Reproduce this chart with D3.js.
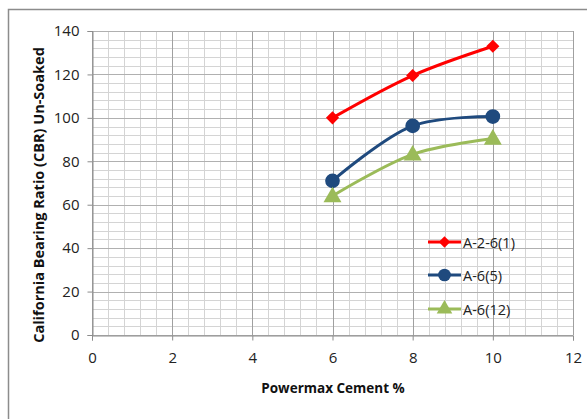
<!DOCTYPE html>
<html><head><meta charset="utf-8">
<script src="https://cdn.jsdelivr.net/npm/d3@7"></script>
<style>body{margin:0;background:#fff}svg{display:block}text{font-family:"Open Sans",sans-serif}</style>
</head><body>
<script>
const cementPct = [6, 8, 10];
const seriesNames = ["A-2-6(1)", "A-6(5)", "A-6(12)"];
const cbrA26_1 = [100, 119.5, 133];
const cbrA6_5 = [71, 96.3, 100.6];
const cbrA6_12 = [64, 83.2, 90.5];
const xTicks = [0, 2, 4, 6, 8, 10, 12];
const yTicks = [0, 20, 40, 60, 80, 100, 120, 140];

const W = 587, H = 419;
const svg = d3.select("body").append("svg").attr("width", W).attr("height", H);
svg.append("rect").attr("x", 8.5).attr("y", 9.5).attr("width", 600).attr("height", 420)
  .attr("fill", "none").attr("stroke", "#8c8c8c").attr("stroke-width", 1.5);

const x = d3.scaleLinear().domain([0, 12]).range([92, 573]);
const y = d3.scaleLinear().domain([0, 140]).range([335, 31]);
const g = svg.append("g");

// minor grid
const xMinor = d3.range(0, 12.001, 0.4);
const yMinor = d3.range(0, 140.001, 4);
g.selectAll(".xm").data(xMinor).enter().append("line")
  .attr("x1", d => Math.round(x(d)) + 0.5).attr("x2", d => Math.round(x(d)) + 0.5)
  .attr("y1", y(0)).attr("y2", y(140)).attr("stroke", "#d4d4d4");
g.selectAll(".ym").data(yMinor).enter().append("line")
  .attr("y1", d => Math.round(y(d)) + 0.5).attr("y2", d => Math.round(y(d)) + 0.5)
  .attr("x1", x(0)).attr("x2", x(12)).attr("stroke", "#d4d4d4");
// major grid
g.selectAll(".xM").data(xTicks).enter().append("line")
  .attr("x1", d => Math.round(x(d)) + 0.5).attr("x2", d => Math.round(x(d)) + 0.5)
  .attr("y1", y(0)).attr("y2", y(140)).attr("stroke", "#a0a0a0");
g.selectAll(".yM").data(yTicks).enter().append("line")
  .attr("y1", d => Math.round(y(d)) + 0.5).attr("y2", d => Math.round(y(d)) + 0.5)
  .attr("x1", x(0)).attr("x2", x(12)).attr("stroke", "#b0b0b0");

// axes
const xAxis = d3.axisBottom(x).tickValues(xTicks).tickSize(5).tickPadding(12).tickFormat(d3.format("d"));
const yAxis = d3.axisLeft(y).tickValues(yTicks).tickSize(5).tickPadding(8).tickFormat(d3.format("d"));
const gx = svg.append("g").attr("transform", `translate(0,${Math.round(y(0)) + 0.5})`).call(xAxis);
const gy = svg.append("g").attr("transform", `translate(${Math.round(x(0)) + 0.5},0)`).call(yAxis);
[gx, gy].forEach(a => {
  a.select(".domain").attr("stroke", "#8c8c8c");
  a.selectAll(".tick line").attr("stroke", "#8c8c8c");
  a.selectAll("text").attr("font-size", 15).attr("fill", "#222").attr("font-family", "Open Sans, sans-serif");
});

svg.append("text").attr("x", 333).attr("y", 393).attr("text-anchor", "middle")
  .attr("font-size", 13.5).attr("font-weight", "bold").attr("fill", "#111").text("Powermax Cement %");
svg.append("text").attr("transform", `translate(44,195) rotate(-90)`).attr("text-anchor", "middle")
  .attr("font-size", 14.5).attr("font-weight", "bold").attr("fill", "#111").text("California Bearing Ratio (CBR) Un-Soaked");

const series = [
  {name: seriesNames[0], vals: cbrA26_1, color: "#ff0000", sym: d3.symbolDiamond2, size: 110},
  {name: seriesNames[1], vals: cbrA6_5, color: "#1f4a7e", sym: d3.symbolCircle, size: 170},
  {name: seriesNames[2], vals: cbrA6_12, color: "#9bbb59", sym: d3.symbolTriangle, size: 140},
];
const line = d3.line().x(d => x(d[0])).y(d => y(d[1])).curve(d3.curveCatmullRom.alpha(0.5));
series.forEach(s => {
  const pts = cementPct.map((c, i) => [c, s.vals[i]]);
  svg.append("path").datum(pts).attr("d", line).attr("fill", "none")
    .attr("stroke", s.color).attr("stroke-width", 3);
  svg.selectAll(null).data(pts).enter().append("path")
    .attr("d", d3.symbol().type(s.sym).size(s.size))
    .attr("transform", d => `translate(${x(d[0])},${y(d[1]) + (s.sym === d3.symbolTriangle ? 1 : 0)})`)
    .attr("fill", s.color);
});

// legend
const legY = [242, 275, 309];
series.forEach((s, i) => {
  const lg = svg.append("g").attr("transform", `translate(428,${legY[i]})`);
  lg.append("line").attr("x1", 0).attr("x2", 33).attr("stroke", s.color).attr("stroke-width", 3);
  lg.append("path").attr("d", d3.symbol().type(s.sym).size(s.size * 0.75)).attr("transform", "translate(16.5,0)").attr("fill", s.color);
  lg.append("text").attr("x", 35).attr("y", 5.5).attr("font-size", 14.5).attr("fill", "#222").text(s.name);
});
</script>
</body></html>
